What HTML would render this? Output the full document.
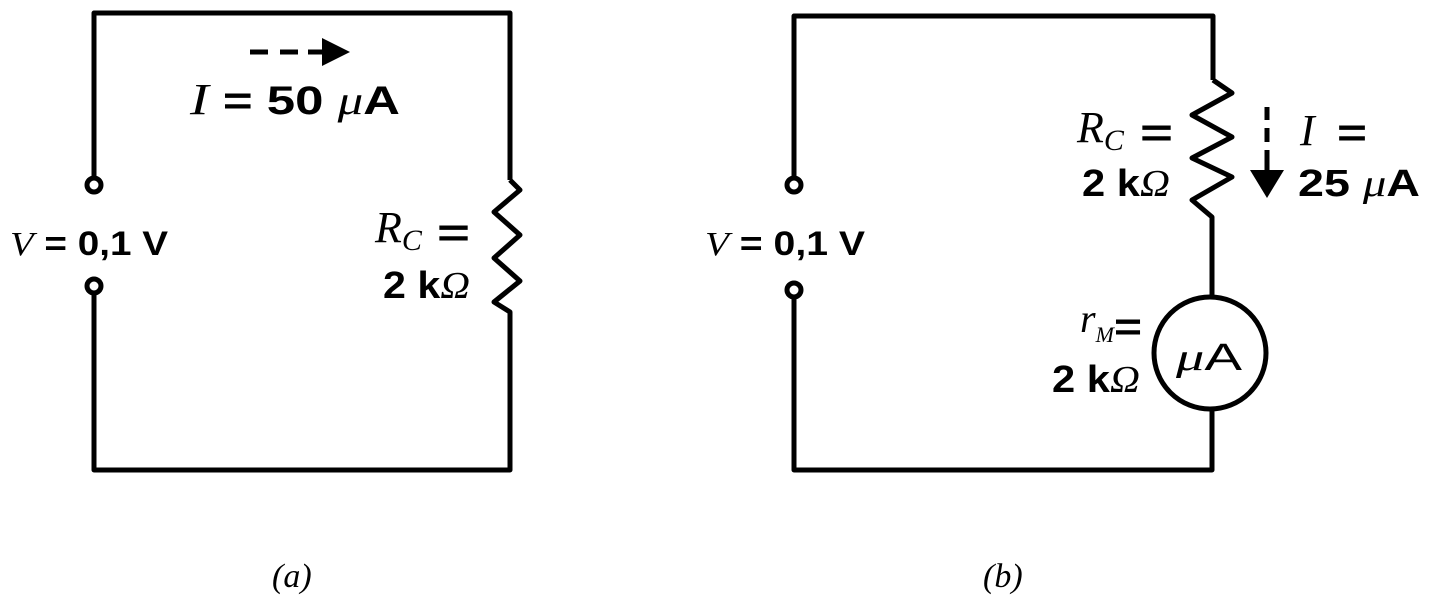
<!DOCTYPE html>
<html><head><meta charset="utf-8"><style>
html,body{margin:0;padding:0;background:#fff;}
svg{display:block}
text{font-family:"Liberation Sans",sans-serif;font-weight:bold;fill:#000}
.it{font-family:"Liberation Serif",serif;font-style:italic;font-weight:normal}
</style></head><body>
<svg width="1429" height="604" viewBox="0 0 1429 604" xmlns="http://www.w3.org/2000/svg">
<g fill="none" stroke="#000" stroke-width="5" stroke-linejoin="round">
<polyline points="94,178 94,13 510,13 510,180"/>
<polyline points="510,180 520,190 494,212 520,235 494,258 520,281 494,302 510,312 510,470 94,470 94,293"/>
<circle cx="94" cy="185" r="7"/>
<circle cx="94" cy="286" r="7"/>
<line x1="250" y1="52" x2="268" y2="52"/>
<line x1="280" y1="52" x2="298" y2="52"/>
<line x1="308" y1="52" x2="322" y2="52"/>
<polyline points="794,178 794,16 1213,16 1213,80"/>
<polyline points="1213,80 1232,93 1192,115 1232,137 1192,158 1232,177 1192,200 1212,217 1212,297"/>
<circle cx="1210" cy="353" r="56"/>
<polyline points="1212,409 1212,470 794,470 794,297"/>
<circle cx="794" cy="185" r="7"/>
<circle cx="794" cy="290" r="7"/>
<line x1="1267" y1="107" x2="1267" y2="120"/>
<line x1="1267" y1="128" x2="1267" y2="142"/>
<line x1="1267" y1="150" x2="1267" y2="172"/>
</g>
<polygon points="322,38 350,52 322,66" fill="#000"/>
<polygon points="1250,170 1284,170 1267,198" fill="#000"/>

<text x="190" y="114" style="font-size:40px" textLength="210" lengthAdjust="spacingAndGlyphs"><tspan class="it" style="font-size:44px">I</tspan> = 50 <tspan class="it">μ</tspan>A</text>
<text x="10" y="255" style="font-size:34px" textLength="158" lengthAdjust="spacingAndGlyphs"><tspan class="it">V</tspan> = 0,1  V</text>
<text x="375" y="242" style="font-size:44px" class="it">R<tspan style="font-size:30px" dy="8">C</tspan></text>
<text x="437" y="246" style="font-size:40px" textLength="33" lengthAdjust="spacingAndGlyphs">=</text>
<text x="383" y="298" style="font-size:38px" textLength="87" lengthAdjust="spacingAndGlyphs">2 k<tspan class="it">Ω</tspan></text>

<text x="705" y="255" style="font-size:34px" textLength="160" lengthAdjust="spacingAndGlyphs"><tspan class="it">V</tspan> = 0,1  V</text>
<text x="1077" y="142" style="font-size:44px" class="it">R<tspan style="font-size:30px" dy="8">C</tspan></text>
<text x="1140" y="146" style="font-size:40px" textLength="33" lengthAdjust="spacingAndGlyphs">=</text>
<text x="1082" y="196" style="font-size:38px" textLength="88" lengthAdjust="spacingAndGlyphs">2 k<tspan class="it">Ω</tspan></text>
<text x="1300" y="145" style="font-size:44px" class="it">I</text>
<text x="1337" y="146" style="font-size:40px" textLength="30" lengthAdjust="spacingAndGlyphs">=</text>
<text x="1298" y="196" style="font-size:38px" textLength="122" lengthAdjust="spacingAndGlyphs">25 <tspan class="it">μ</tspan>A</text>
<text x="1080" y="332" style="font-size:40px" class="it">r<tspan style="font-size:22px" dy="10">M</tspan></text>
<text x="1114" y="340" style="font-size:40px" textLength="28" lengthAdjust="spacingAndGlyphs">=</text>
<text x="1052" y="392" style="font-size:38px" textLength="88" lengthAdjust="spacingAndGlyphs">2 k<tspan class="it">Ω</tspan></text>
<text x="1176" y="370" style="font-size:38px;font-weight:normal" textLength="66" lengthAdjust="spacingAndGlyphs"><tspan class="it">μ</tspan>A</text>

<text x="272" y="587" style="font-size:34px" class="it">(a)</text>
<text x="983" y="587" style="font-size:34px" class="it">(b)</text>
</svg>
</body></html>
